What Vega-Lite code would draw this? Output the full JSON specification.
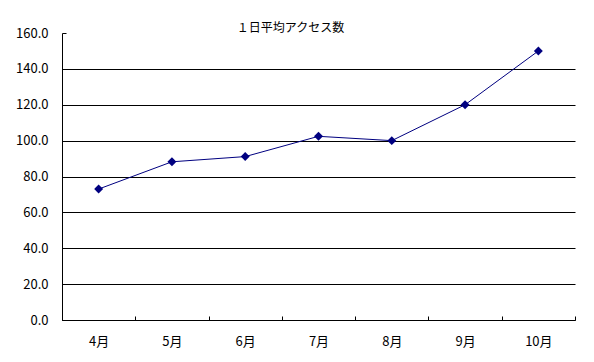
{
  "$schema": "https://vega.github.io/schema/vega-lite/v6.json",
  "autosize": {"type": "none"},
  "padding": {"left": 62, "top": 33, "right": 19, "bottom": 42},
  "width": 513,
  "height": 287,
  "background": "white",
  "title": {
    "text": "１日平均アクセス数",
    "anchor": "middle",
    "frame": "group",
    "dx": -28,
    "offset": -8,
    "font": "Noto Sans CJK JP",
    "fontSize": 12,
    "fontWeight": "normal",
    "color": "black"
  },
  "config": {
    "view": {"stroke": null},
    "font": "Noto Sans CJK JP"
  },
  "data": {
    "values": [
      {"month": "4月", "value": 73.0},
      {"month": "5月", "value": 88.2},
      {"month": "6月", "value": 91.1},
      {"month": "7月", "value": 102.4},
      {"month": "8月", "value": 100.0},
      {"month": "9月", "value": 120.0},
      {"month": "10月", "value": 150.0}
    ]
  },
  "encoding": {
    "x": {
      "field": "month",
      "type": "nominal",
      "sort": null,
      "scale": {"type": "band", "paddingInner": 0, "paddingOuter": 0},
      "axis": {
        "title": null,
        "labelAngle": 0,
        "labelFont": "Noto Sans CJK JP",
        "labelFontSize": 13,
        "labelColor": "black",
        "labelPadding": 19,
        "tickBand": "extent",
        "tickSize": -4,
        "tickColor": "black",
        "domainColor": "black",
        "grid": false
      }
    },
    "y": {
      "field": "value",
      "type": "quantitative",
      "scale": {"domain": [0, 160], "nice": false},
      "axis": {
        "title": null,
        "values": [0, 20, 40, 60, 80, 100, 120, 140, 160],
        "format": ".1f",
        "labelFont": "Noto Sans CJK JP",
        "labelFontSize": 13,
        "labelColor": "black",
        "labelPadding": 18,
        "tickSize": -4,
        "tickColor": "black",
        "domainColor": "black",
        "grid": true,
        "gridColor": {"condition": {"test": "datum.value == 160", "value": "transparent"}, "value": "black"},
        "gridOpacity": 1,
        "gridWidth": 1
      }
    }
  },
  "layer": [
    {"mark": {"type": "line", "color": "#000080", "strokeWidth": 1}},
    {"mark": {"type": "point", "shape": "diamond", "filled": true, "color": "#000080", "size": 80, "opacity": 1}}
  ]
}
